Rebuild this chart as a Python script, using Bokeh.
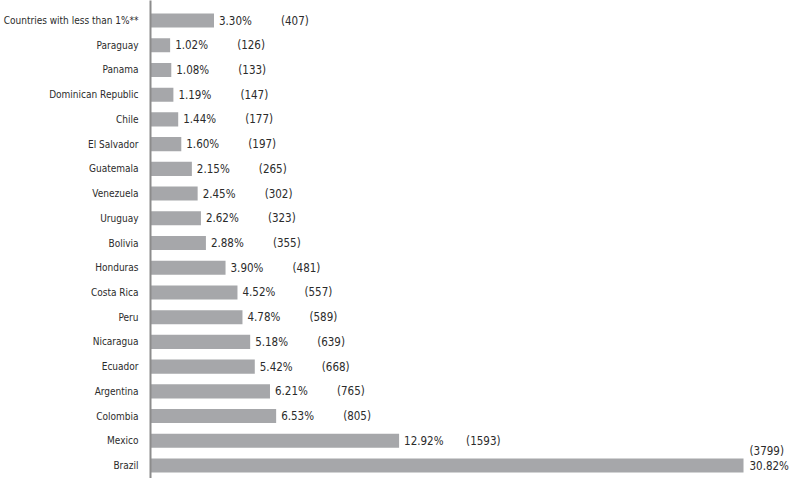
from bokeh.plotting import figure
from bokeh.models import ColumnDataSource, Range1d, FixedTicker
from bokeh.core.properties import value
from bokeh.embed import file_html
from bokeh.resources import INLINE

countries = ["Brazil", "Mexico", "Colombia", "Argentina", "Ecuador", "Nicaragua", "Peru",
             "Costa Rica", "Honduras", "Bolivia", "Uruguay", "Venezuela", "Guatemala",
             "El Salvador", "Chile", "Dominican Republic", "Panama", "Paraguay",
             "Countries with less than 1%**"]
percent = [30.82, 12.92, 6.53, 6.21, 5.42, 5.18, 4.78, 4.52, 3.90, 2.88, 2.62, 2.45, 2.15,
           1.60, 1.44, 1.19, 1.08, 1.02, 3.30]
counts = [3799, 1593, 805, 765, 668, 639, 589, 557, 481, 355, 323, 302, 265, 197, 177, 147,
          133, 126, 407]

FONT = "DejaVu Sans Condensed"
FS = "11.5px"
FS_AX = "10px"
BAR = "#a6a7aa"
TXT = "#2b2b2b"

idx = list(range(len(countries)))
src = ColumnDataSource(dict(y=idx, v=percent))
rest = ColumnDataSource(dict(
    y=idx[1:], v=percent[1:],
    pct=[f"{p:.2f}%" for p in percent[1:]],
    cnt=[f"({c})" for c in counts[1:]],
))
top = ColumnDataSource(dict(
    y=idx[:1], v=percent[:1],
    pct=[f"{p:.2f}%" for p in percent[:1]],
    cnt=[f"({c})" for c in counts[:1]],
))

p = figure(width=789, height=478, output_backend="svg", toolbar_location=None,
           x_range=Range1d(0, 33.21), y_range=Range1d(-0.526, 18.81),
           min_border_left=150, min_border_right=0, min_border_top=0, min_border_bottom=0)

p.hbar(y="y", right="v", left=0, height=0.57, source=src, color=BAR, line_color=None)

p.text(x="v", y="y", text="pct", source=rest, x_offset=5, text_baseline="middle",
       text_font=value(FONT), text_font_size=FS, text_color=TXT)
p.text(x="v", y="y", text="cnt", source=rest, x_offset=67, text_baseline="middle",
       text_font=value(FONT), text_font_size=FS, text_color=TXT)
p.text(x="v", y="y", text="pct", source=top, x_offset=6, y_offset=1, text_baseline="middle",
       text_font=value(FONT), text_font_size=FS, text_color=TXT)
p.text(x="v", y="y", text="cnt", source=top, x_offset=6, y_offset=-14, text_baseline="middle",
       text_font=value(FONT), text_font_size=FS, text_color=TXT)

p.xaxis.visible = False
p.xgrid.visible = False
p.ygrid.visible = False
p.outline_line_color = None

ya = p.yaxis[0]
ya.ticker = FixedTicker(ticks=idx)
ya.major_label_overrides = {i: c for i, c in zip(idx, countries)}
ya.major_tick_line_color = None
ya.minor_tick_line_color = None
ya.axis_line_color = "#8c8c8c"
ya.axis_line_width = 2
ya.major_label_standoff = 6
ya.major_label_text_font = FONT
ya.major_label_text_font_size = FS_AX
ya.major_label_text_color = TXT

open("out.html", "w").write(file_html(p, INLINE))
